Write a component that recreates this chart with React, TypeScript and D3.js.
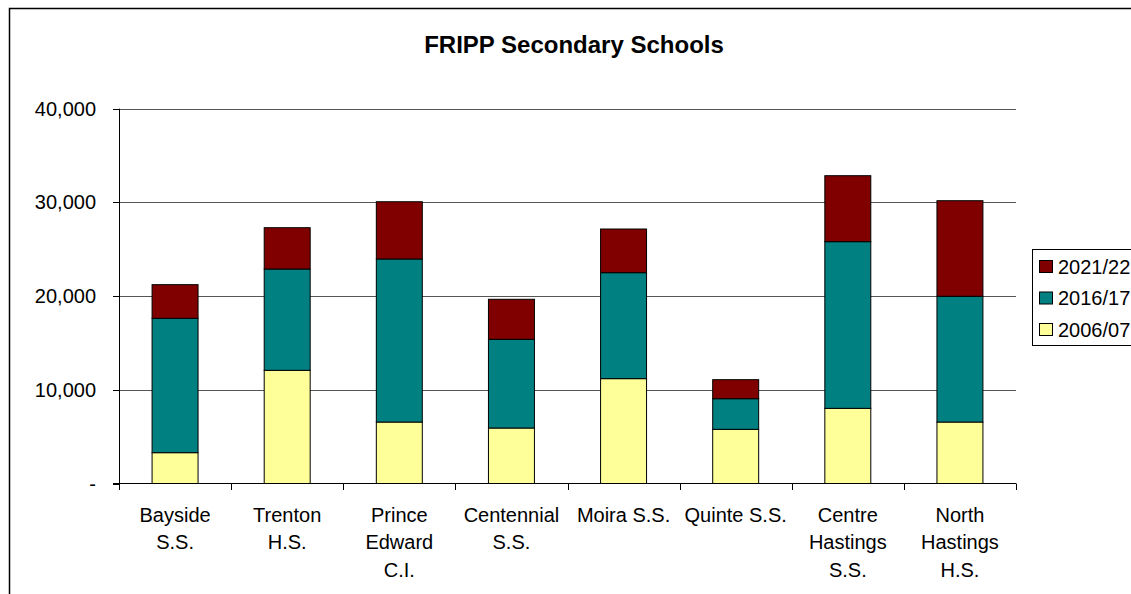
import React from "react";
import * as d3 from "d3";

const schools = [
  ["Bayside", "S.S."],
  ["Trenton", "H.S."],
  ["Prince", "Edward", "C.I."],
  ["Centennial", "S.S."],
  ["Moira S.S."],
  ["Quinte S.S."],
  ["Centre", "Hastings", "S.S."],
  ["North", "Hastings", "H.S."],
];
const seriesKeys = ["2006/07", "2016/17", "2021/22"];
const v2006 = [3290, 12080, 6560, 5920, 11190, 5780, 8020, 6560];
const v2016 = [14340, 10810, 17400, 9470, 11310, 3270, 17790, 13420];
const v2021 = [3590, 4410, 6110, 4270, 4660, 2030, 7040, 10200];
const yTicks = [0, 10000, 20000, 30000, 40000];

const colors: Record<string, string> = {
  "2006/07": "#FFFF99",
  "2016/17": "#008080",
  "2021/22": "#800000",
};

const W = 1131;
const H = 594;
const font = "'Liberation Sans', Arial, sans-serif";

const App = () => {
  const names = schools.map((s) => s.join(" "));
  const rows = names.map((n, i) => ({
    name: n,
    "2006/07": v2006[i],
    "2016/17": v2016[i],
    "2021/22": v2021[i],
  }));

  const x = d3
    .scaleBand<string>()
    .domain(names)
    .range([119, 1016])
    .paddingInner(0.59)
    .paddingOuter(0.295);
  const y = d3.scaleLinear().domain([0, 40000]).range([483.5, 108.7]);
  const stacked = d3.stack<any>().keys(seriesKeys)(rows);
  const step = x.step();
  const fmt = d3.format(",");

  const boundaries = names.map((n) => x(n)! + x.bandwidth() / 2 - step / 2);
  boundaries.push(x(names[names.length - 1])! + x.bandwidth() / 2 + step / 2);

  return (
    <svg
      width={W}
      height={H}
      style={{ position: "absolute", left: 0, top: 0, display: "block", background: "#fff" }}
      fontFamily={font}
    >
      {/* outer frame, runs off the right and bottom */}
      <rect x={9.5} y={8.5} width={W + 20} height={H + 20} fill="#fff" stroke="#000" strokeWidth={1.5} />

      <text x={574} y={53} textAnchor="middle" fontSize={24} fontWeight="bold" fill="#000">
        FRIPP Secondary Schools
      </text>

      {/* grid lines */}
      {yTicks.slice(1).map((t) => (
        <line key={t} x1={119} x2={1016} y1={Math.round(y(t)) + 0.5} y2={Math.round(y(t)) + 0.5} stroke="#555" strokeWidth={1} />
      ))}

      {/* bars */}
      {stacked.map((s) => (
        <g key={s.key} fill={colors[s.key]}>
          {s.map((d, i) => (
            <rect
              key={i}
              x={x(names[i])}
              y={y(d[1])}
              width={x.bandwidth()}
              height={y(d[0]) - y(d[1])}
              stroke="#000"
              strokeWidth={1}
            />
          ))}
        </g>
      ))}

      {/* y axis */}
      <line x1={119.5} x2={119.5} y1={y(40000)} y2={y(0)} stroke="#000" />
      {yTicks.map((t) => (
        <g key={t}>
          <line x1={113} x2={119.5} y1={Math.round(y(t)) + 0.5} y2={Math.round(y(t)) + 0.5} stroke="#000" />
          <text x={96} y={y(t)} dy="0.35em" textAnchor="end" fontSize={20} fill="#000">
            {t === 0 ? "-" : fmt(t)}
          </text>
        </g>
      ))}

      {/* x axis */}
      <line x1={113} x2={1016} y1={483.5} y2={483.5} stroke="#000" />
      {boundaries.map((b, i) => (
        <line key={i} x1={Math.round(b) + 0.5} x2={Math.round(b) + 0.5} y1={483.5} y2={490} stroke="#000" />
      ))}
      {schools.map((lines, i) => (
        <text key={i} x={x(names[i])! + x.bandwidth() / 2} y={521.5} textAnchor="middle" fontSize={20} fill="#000">
          {lines.map((l, j) => (
            <tspan key={j} x={x(names[i])! + x.bandwidth() / 2} dy={j === 0 ? 0 : 27.5}>
              {l}
            </tspan>
          ))}
        </text>
      ))}

      {/* legend */}
      <rect x={1032.5} y={249.5} width={120} height={96} fill="#fff" stroke="#000" />
      {seriesKeys
        .slice()
        .reverse()
        .map((k, i) => (
          <g key={k} transform={`translate(1039.5, ${260.5 + i * 31.5})`}>
            <rect width={13} height={12} fill={colors[k]} stroke="#000" />
            <text x={18.5} y={6} dy="0.35em" fontSize={20} fill="#000">
              {k}
            </text>
          </g>
        ))}
    </svg>
  );
};

export default App;
